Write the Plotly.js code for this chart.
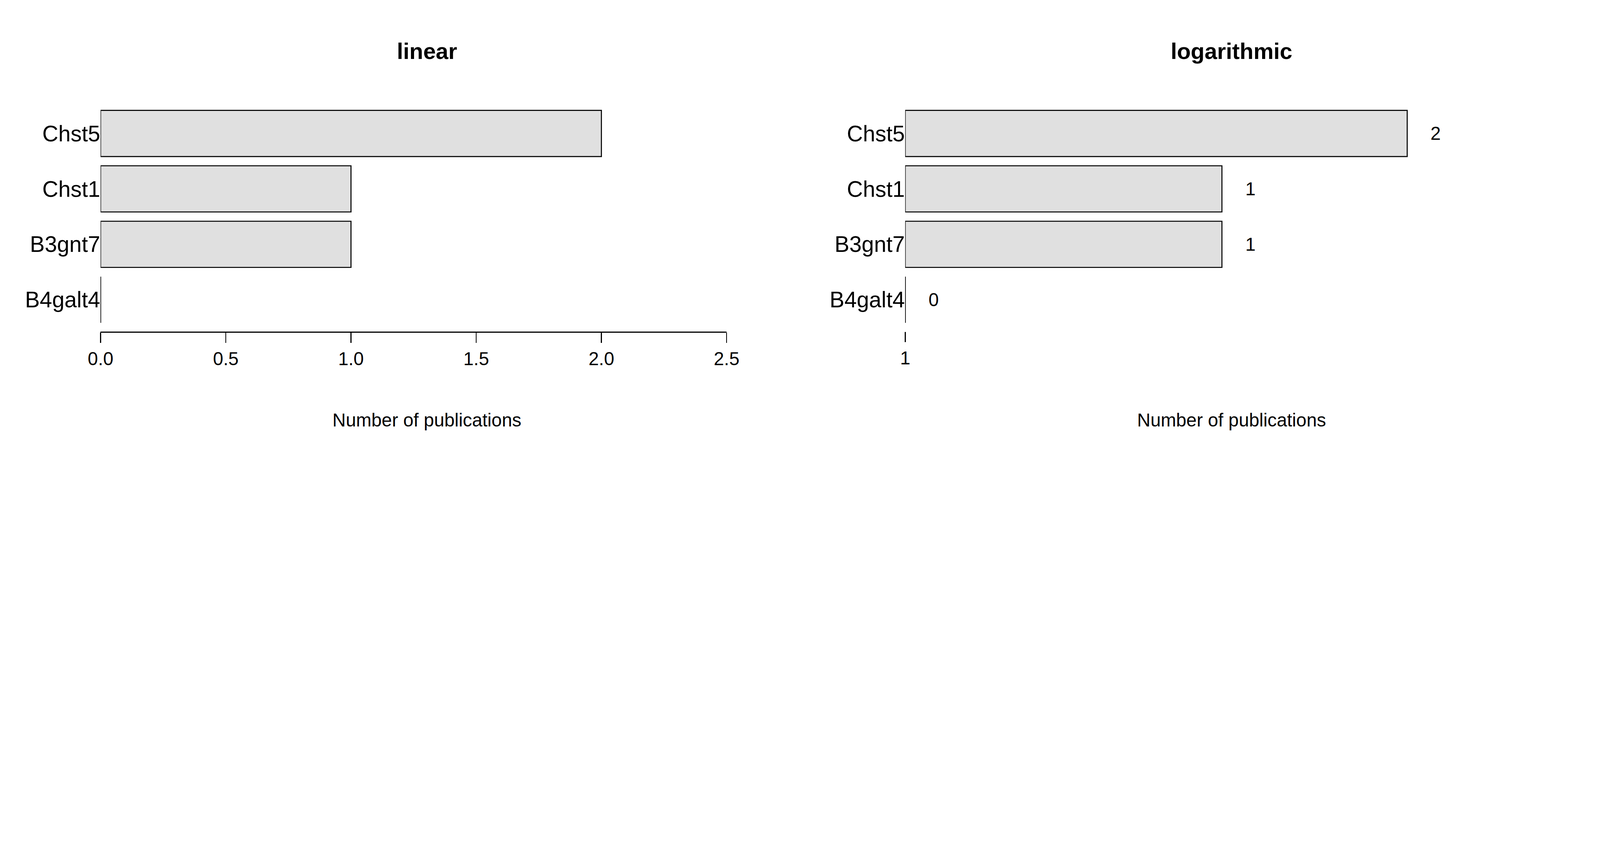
<!DOCTYPE html>
<html>
<head>
<meta charset="utf-8">
<script src="https://cdn.plot.ly/plotly-3.0.1.min.js"></script>
<style>html,body{margin:0;padding:0;background:#fff;overflow:hidden}</style>
</head>
<body>
<div id="chart"></div>
<script>
var genes = ['B4galt4', 'B3gnt7', 'Chst1', 'Chst5'];
var counts = [0, 1, 1, 2];
var linearTicks = [0, 0.5, 1, 1.5, 2, 2.5];

// layout is designed on a 7795x2220 canvas, scaled to the actual window
var W = 7795, H = 2220;
var vw = window.innerWidth || W, vh = window.innerHeight || H;
var s = Math.min(vw / W, vh / H);
var px = function (v) { return v * s; };

var pos = genes.map(function (g, i) { return i; });
var logVals = counts.map(function (c) { return Math.log10(c + 1); });

var barStyle = {color: '#e0e0e0', line: {color: '#000', width: px(5)}};
var font = {family: 'Liberation Sans, Arial, sans-serif', color: '#000'};

var data = [
    {type: 'bar', orientation: 'h', x: counts, y: pos, width: 0.833,
     marker: barStyle, xaxis: 'x', yaxis: 'y', hoverinfo: 'none'},
    {type: 'bar', orientation: 'h', x: logVals, y: pos, width: 0.833,
     marker: barStyle, xaxis: 'x2', yaxis: 'y2', hoverinfo: 'none'}
];

// zero-valued bars still show their outline as a vertical line
counts.forEach(function (c, i) {
    if (c === 0) {
        ['', '2'].forEach(function (k) {
            data.push({type: 'scatter', mode: 'lines', x: [0, 0], y: [i - 0.4165, i + 0.4165],
                       line: {color: '#000', width: px(5)}, xaxis: 'x' + k, yaxis: 'y' + k,
                       hoverinfo: 'none', showlegend: false});
        });
    }
});

var yDom = [1 - 1615 / H, 1 - 500 / H];
var yRange = [-0.574, 3.556];
var yax = function (anchor) {
    return {domain: yDom, range: yRange, anchor: anchor, tickvals: pos, ticktext: genes,
            ticks: '', showline: false, showgrid: false, zeroline: false,
            ticklabelstandoff: px(115), tickfont: Object.assign({size: px(108)}, font)};
};
var xax = function (dom, range, anchor) {
    return {domain: dom, range: range, anchor: anchor, showgrid: false, zeroline: false,
            ticks: 'outside', ticklen: px(50), tickwidth: px(5), tickcolor: '#000',
            tickfont: Object.assign({size: px(90)}, font)};
};

var x1 = xax([490 / W, 3540 / W], [0, 2.5], 'y');
x1.showline = true; x1.linewidth = px(5); x1.linecolor = '#000';
x1.tickvals = linearTicks; x1.ticktext = linearTicks.map(function (t) { return t.toFixed(1); });

var x2 = xax([4410 / W, 7460 / W], [0, 0.595], 'y2');
x2.showline = false; x2.tickvals = [0]; x2.ticktext = ['1'];

var annotations = [
    {text: '<b>linear</b>', x: 2080 / W, y: 1 - 250 / H},
    {text: '<b>logarithmic</b>', x: 6000 / W, y: 1 - 250 / H},
    {text: 'Number of publications', x: 2080 / W, y: 1 - 2045 / H, size: 90},
    {text: 'Number of publications', x: 6000 / W, y: 1 - 2045 / H, size: 90}
].map(function (a) {
    return {text: a.text, x: a.x, y: a.y, xref: 'paper', yref: 'paper', showarrow: false,
            xanchor: 'center', yanchor: 'middle', font: Object.assign({size: px(a.size || 110)}, font)};
});

counts.forEach(function (c, i) {
    annotations.push({text: String(c), x: logVals[i], y: i, xref: 'x2', yref: 'y2',
                      showarrow: false, xanchor: 'left', xshift: px(110),
                      font: Object.assign({size: px(90)}, font)});
});

var layout = {
    width: W * s, height: H * s, margin: {l: 0, r: 0, t: 0, b: 0},
    paper_bgcolor: '#fff', plot_bgcolor: '#fff', showlegend: false,
    xaxis: x1, yaxis: yax('x'), xaxis2: x2, yaxis2: yax('x2'),
    annotations: annotations
};

Plotly.newPlot('chart', data, layout, {staticPlot: true});
</script>
</body>
</html>
